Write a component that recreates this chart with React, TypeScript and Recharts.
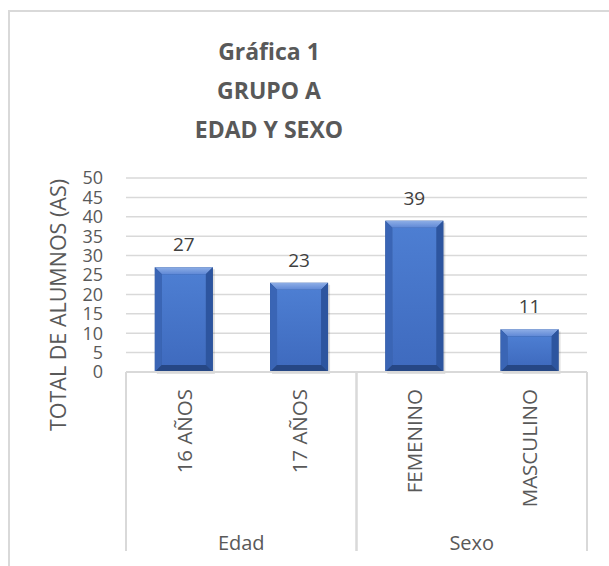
import { Bar, BarChart, CartesianGrid, Customized, LabelList, XAxis, YAxis } from "recharts";

const categories = ["16 AÑOS", "17 AÑOS", "FEMENINO", "MASCULINO"];
const groups = ["Edad", "Edad", "Sexo", "Sexo"];
const alumnos = [27, 23, 39, 11];
const yTicks = [0, 5, 10, 15, 20, 25, 30, 35, 40, 45, 50];
const titleLines = ["Gráfica 1", "GRUPO A", "EDAD Y SEXO"];
const yTitle = "TOTAL DE ALUMNOS (AS)";

const data = categories.map((c, i) => ({ cat: c, group: groups[i], value: alumnos[i] }));

const W = 609;
const H = 566;
const M = { top: 178, right: 22, bottom: 9, left: 8 };
const Y_W = 118;
const X_H = 185;
const PLOT_L = M.left + Y_W;
const PLOT_R = W - M.right;
const BAND = (PLOT_R - PLOT_L) / categories.length;
const AXIS_TOP = H - M.bottom - X_H;
const AXIS_BOTTOM = H - M.bottom - 6;

const FONT = "'Open Sans', Calibri, sans-serif";
const TEXT = "#595959";
const GRID = "#D9D9D9";

function BevelBar(props: any) {
  const { x, y, width: w, height: h } = props;
  if (!h || h <= 0) return null;
  const b = Math.min(7, h / 2);
  return (
    <g>
      <rect x={x + 2} y={y + 2} width={w} height={h} fill="#000" opacity={0.12} />
      <rect x={x} y={y} width={w} height={h} fill="#2F528F" />
      <polygon
        points={`${x},${y} ${x + w},${y} ${x + w - b},${y + b} ${x + b},${y + b}`}
        fill="url(#bevelTop)"
      />
      <polygon
        points={`${x},${y} ${x + b},${y + b} ${x + b},${y + h - b} ${x},${y + h}`}
        fill="#3A65B5"
      />
      <polygon
        points={`${x + w},${y} ${x + w},${y + h} ${x + w - b},${y + h - b} ${x + w - b},${y + b}`}
        fill="#2D559F"
      />
      <polygon
        points={`${x},${y + h} ${x + b},${y + h - b} ${x + w - b},${y + h - b} ${x + w},${y + h}`}
        fill="#264785"
      />
      <rect x={x + b} y={y + b} width={w - 2 * b} height={h - 2 * b} fill="url(#bevelFace)" />
    </g>
  );
}

function CategoryTick(props: any) {
  const { x, payload, index } = props;
  const i = index ?? payload.index;
  const g = groups[i];
  const first = i === 0 || groups[i - 1] !== g;
  const last = i === groups.length - 1 || groups[i + 1] !== g;
  let groupLabel = null;
  if (first) {
    let n = 1;
    while (groups[i + n] === g) n++;
    const cx = x - BAND / 2 + (n * BAND) / 2;
    groupLabel = (
      <text x={cx} y={550} textAnchor="middle" fontSize={20} fill={TEXT} fontFamily={FONT}>
        {g}
      </text>
    );
  }
  return (
    <g>
      {first && (
        <line x1={x - BAND / 2} x2={x - BAND / 2} y1={AXIS_TOP} y2={AXIS_BOTTOM} stroke={GRID} strokeWidth={2} />
      )}
      {last && (
        <line x1={x + BAND / 2} x2={x + BAND / 2} y1={AXIS_TOP} y2={AXIS_BOTTOM} stroke={GRID} strokeWidth={2} />
      )}
      <text
        x={x}
        y={389}
        transform={`rotate(-90, ${x}, 389)`}
        textAnchor="end"
        dominantBaseline="central"
        fontSize={20.5}
        fill={TEXT}
        fontFamily={FONT}
      >
        {payload.value}
      </text>
      {groupLabel}
    </g>
  );
}

function Decorations() {
  return (
    <g>
      <line x1={8} x2={W} y1={11} y2={11} stroke={GRID} strokeWidth={2} />
      <line x1={9} x2={9} y1={10} y2={H} stroke={GRID} strokeWidth={2} />
      {titleLines.map((t, i) => (
        <text
          key={t}
          x={269}
          y={60 + i * 39}
          textAnchor="middle"
          fontSize={23}
          fontWeight="bold"
          fill={TEXT}
          fontFamily={FONT}
        >
          {t}
        </text>
      ))}
      <text
        x={57}
        y={305}
        transform="rotate(-90, 57, 305)"
        textAnchor="middle"
        dominantBaseline="central"
        fontSize={21.5}
        fill={TEXT}
        fontFamily={FONT}
      >
        {yTitle}
      </text>
    </g>
  );
}

export default function App() {
  return (
    <div style={{ position: "fixed", left: 0, top: 0, width: W, height: H, background: "#fff" }}>
      <BarChart width={W} height={H} data={data} margin={M} barCategoryGap="25%">
        <defs>
          <linearGradient id="bevelTop" x1="0" y1="0" x2="0" y2="1">
            <stop offset="0%" stopColor="#8EAEE6" />
            <stop offset="100%" stopColor="#5F88D6" />
          </linearGradient>
          <linearGradient id="bevelFace" x1="0" y1="0" x2="0" y2="1">
            <stop offset="0%" stopColor="#4D7ED2" />
            <stop offset="100%" stopColor="#3F6BBF" />
          </linearGradient>
        </defs>
        <Customized component={Decorations} />
        <CartesianGrid vertical={false} stroke={GRID} strokeWidth={1.5} />
        <YAxis
          width={Y_W}
          domain={[0, 50]}
          ticks={yTicks}
          interval={0}
          axisLine={false}
          tickLine={false}
          tickSize={0}
          tickMargin={23}
          tick={{ fontSize: 18, fill: TEXT, fontFamily: FONT }}
        />
        <XAxis
          dataKey="cat"
          height={X_H}
          interval={0}
          axisLine={{ stroke: GRID, strokeWidth: 2 }}
          tickLine={false}
          tick={<CategoryTick />}
        />
        <Bar dataKey="value" shape={<BevelBar />} isAnimationActive={false}>
          <LabelList
            dataKey="value"
            position="top"
            offset={16}
            fontSize={19}
            fill="#404040"
            fontFamily={FONT}
          />
        </Bar>
      </BarChart>
    </div>
  );
}
